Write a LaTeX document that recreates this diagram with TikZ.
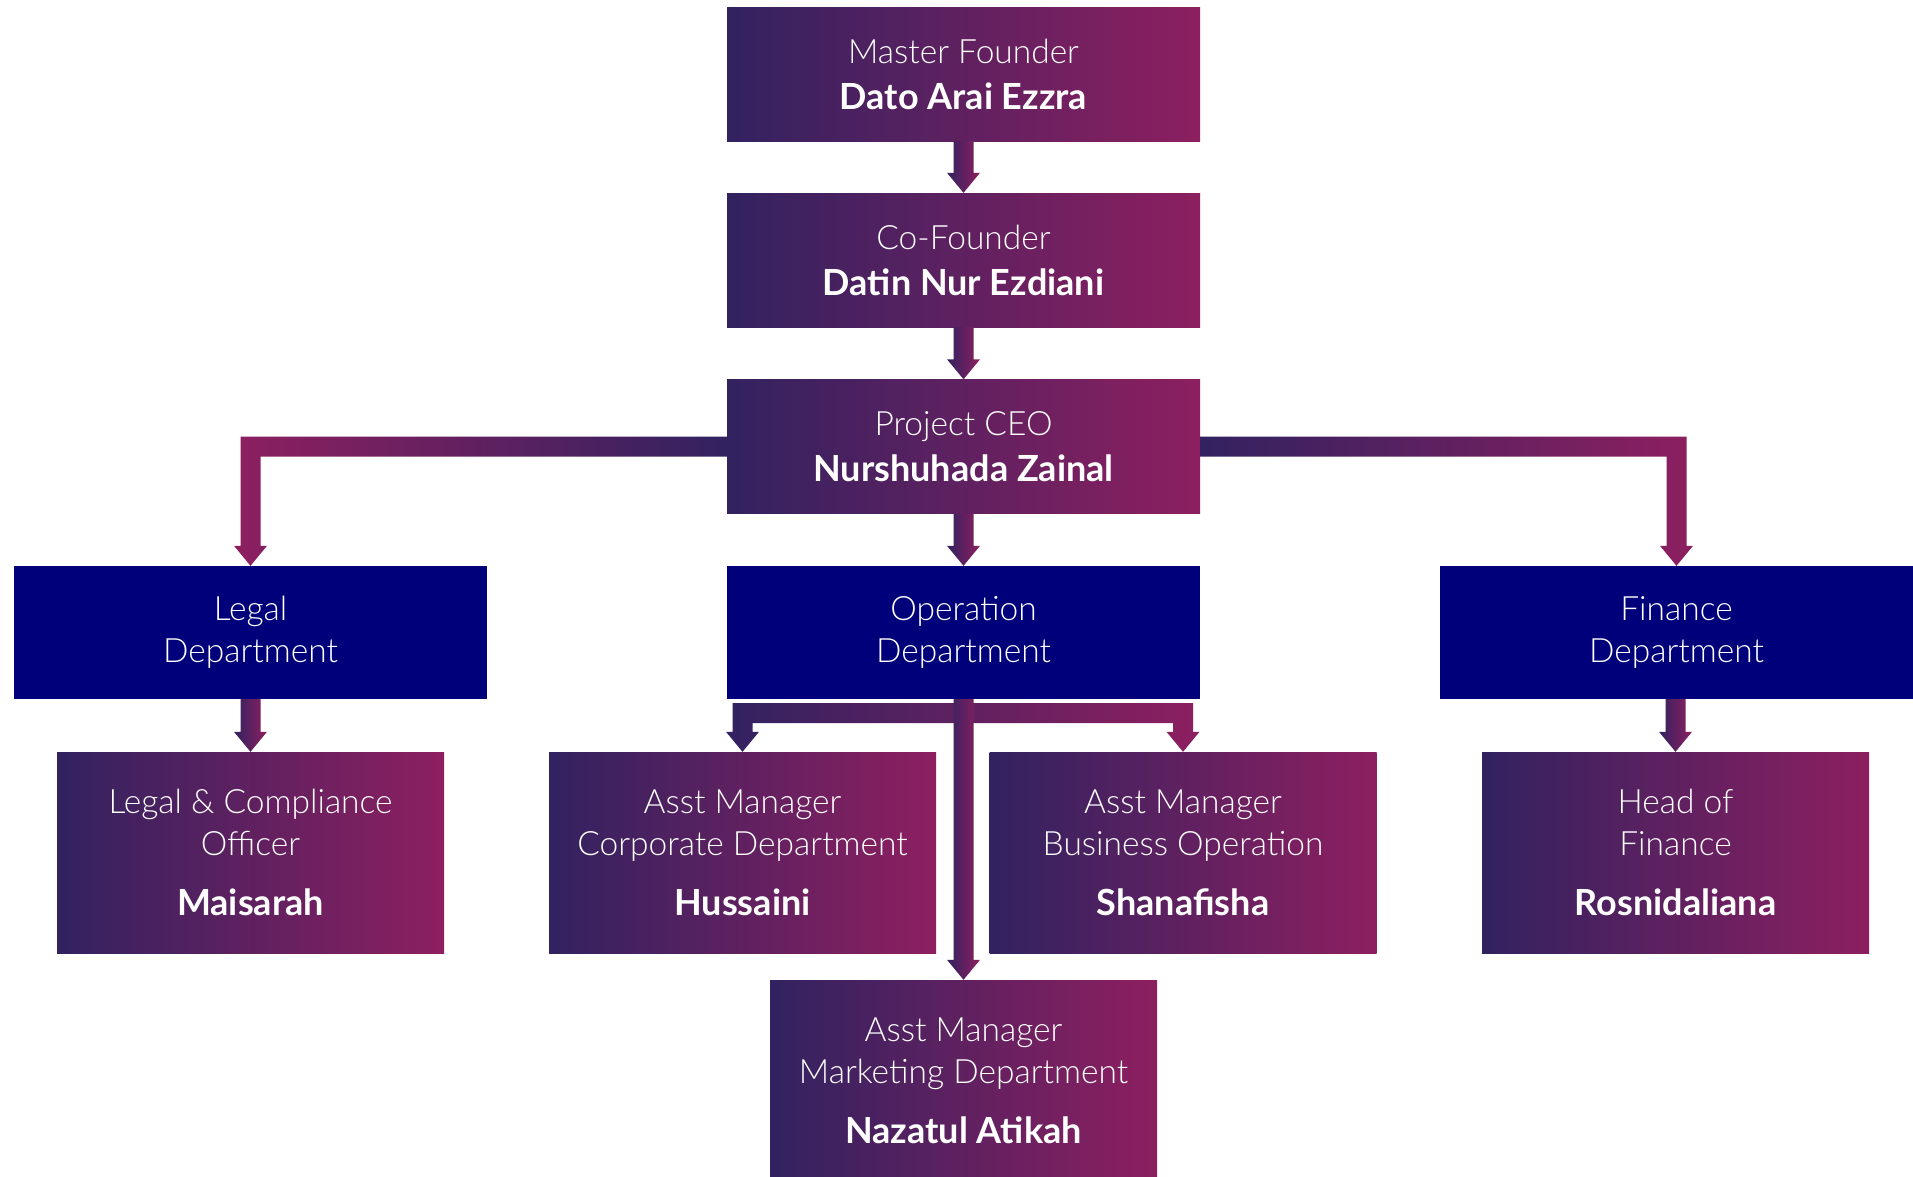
\documentclass[tikz,border=0pt]{standalone}
\usepackage{fontspec}
\setmainfont{Lato}
\newfontfamily\thinfont{Lato Light}
\usetikzlibrary{calc}

\definecolor{pdark}{RGB}{50,34,96}
\definecolor{pmag}{RGB}{141,31,96}
\definecolor{deptblue}{RGB}{0,0,122}

\tikzset{
  orgbox/.style={rectangle, left color=pdark, right color=pmag, text=white, align=center,
    inner sep=0pt, font=\thinfont\fontsize{33.5}{42}\selectfont},
  topbox/.style={orgbox, minimum width=473pt, minimum height=134pt},
  staffbox/.style={orgbox, minimum width=387pt, minimum height=201pt},
  deptbox/.style={rectangle, fill=deptblue, text=white, align=center, inner sep=0pt,
    minimum width=473pt, minimum height=133pt, font=\thinfont\fontsize{33.5}{42}\selectfont},
  arrowshade/.style={left color=pdark, right color=pmag},
}
\newcommand{\boss}[1]{{\normalfont\bfseries\fontsize{36}{42}\selectfont #1}}
% block arrow straight down to the node below
\newcommand{\blockdown}[2]{%
  \shade[arrowshade] let \p1=(#1), \p2=(#2) in
    (\x2-10pt,\y1) -- (\x2+10pt,\y1) -- (\x2+10pt,\y2+20pt) -- (\x2+16.5pt,\y2+20pt)
    -- (\x2,\y2) -- (\x2-16.5pt,\y2+20pt) -- (\x2-10pt,\y2+20pt) -- cycle;}

\begin{document}
\begin{tikzpicture}[x=1pt, y=1pt]
	\useasboundingbox (0,0) rectangle (1913,-1176);

	\node[topbox] (master) at (963.5,-74) {Master Founder\\[4pt]\boss{Dato Arai Ezzra}};
	\node[topbox] (cofounder) at (963.5,-260) {Co-Founder\\[4pt]\boss{Datin Nur Ezdiani}};
	\node[topbox] (ceo) at (963.5,-446.5) {Project CEO\\[4pt]\boss{Nurshuhada Zainal}};

	\node[deptbox] (legal) at (250.5,-632.5) {Legal\\Department};
	\node[deptbox] (oper) at (963.5,-632.5) {Operation\\Department};
	\node[deptbox] (fin) at (1676.5,-632.5) {Finance\\Department};

	\node[staffbox] (comply) at (250.5,-852.5) {Legal \& Compliance\\Officer\\[18pt]\boss{Maisarah}};
	\node[staffbox] (corp) at (742.5,-852.5) {Asst Manager\\Corporate Department\\[18pt]\boss{Hussaini}};
	\node[staffbox] (biz) at (1183,-852.5) {Asst Manager\\Business Operation\\[18pt]\boss{Shanafisha}};
	\node[staffbox] (hof) at (1675.5,-852.5) {Head of\\Finance\\[18pt]\boss{Rosnidaliana}};
	\node[staffbox] (mkt) at (963.5,-1080.5) {Asst Manager\\Marketing Department\\[18pt]\boss{Nazatul Atikah}};

	\blockdown{master.south}{cofounder.north}
	\blockdown{cofounder.south}{ceo.north}
	\blockdown{ceo.south}{oper.north}
	\blockdown{legal.south}{comply.north}
	\blockdown{fin.south}{hof.north}

	% side branches from the CEO
	\shade[left color=pmag, right color=pdark] let \p1=(ceo.west), \p2=(legal.north) in
		(\x1,\y1+10pt) -- (\x2-10pt,\y1+10pt) -- (\x2-10pt,\y2+20pt) -- (\x2-16.5pt,\y2+20pt)
		-- (\x2,\y2) -- (\x2+16.5pt,\y2+20pt) -- (\x2+10pt,\y2+20pt) -- (\x2+10pt,\y1-10pt)
		-- (\x1,\y1-10pt) -- cycle;
	\shade[left color=pdark, right color=pmag] let \p1=(ceo.east), \p2=(fin.north) in
		(\x1,\y1+10pt) -- (\x2+10pt,\y1+10pt) -- (\x2+10pt,\y2+20pt) -- (\x2+16.5pt,\y2+20pt)
		-- (\x2,\y2) -- (\x2-16.5pt,\y2+20pt) -- (\x2-10pt,\y2+20pt) -- (\x2-10pt,\y1-10pt)
		-- (\x1,\y1-10pt) -- cycle;

	% operation fork
	\shade[arrowshade] let \p1=(oper.south), \p2=(corp.north), \p3=(biz.north) in
		(\x2-10pt,\y1-4pt) -- (\x3+10pt,\y1-4pt) -- (\x3+10pt,\y3+20pt) -- (\x3+16.5pt,\y3+20pt)
		-- (\x3,\y3) -- (\x3-16.5pt,\y3+20pt) -- (\x3-10pt,\y3+20pt) -- (\x3-10pt,\y1-24pt)
		-- (\x2+10pt,\y1-24pt) -- (\x2+10pt,\y2+20pt) -- (\x2+16.5pt,\y2+20pt)
		-- (\x2,\y2) -- (\x2-16.5pt,\y2+20pt) -- (\x2-10pt,\y2+20pt) -- cycle;
	\blockdown{oper.south}{mkt.north}
\end{tikzpicture}
\end{document}
